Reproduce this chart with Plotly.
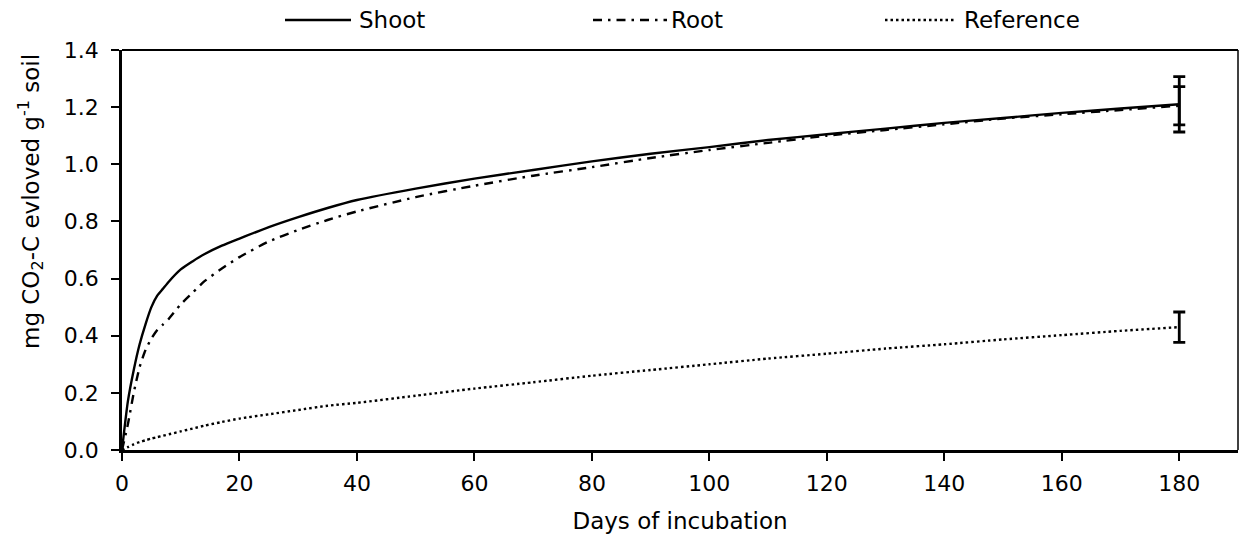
import plotly.graph_objects as go

# Cumulative CO2-C evolved during incubation (mg CO2-C per g soil)
days = [0, 1, 2, 3, 4, 5, 6, 7, 8, 10, 12, 14, 17, 20, 25, 30, 35, 40, 50, 60,
        70, 80, 90, 100, 110, 120, 130, 140, 150, 160, 170, 180]
shoot = [0, 0.17, 0.28, 0.37, 0.44, 0.50, 0.54, 0.565, 0.59, 0.632, 0.66, 0.685,
         0.715, 0.74, 0.78, 0.815, 0.847, 0.875, 0.915, 0.95, 0.98, 1.01, 1.037,
         1.06, 1.085, 1.105, 1.125, 1.145, 1.162, 1.18, 1.195, 1.21]
root = [0, 0.09, 0.20, 0.29, 0.35, 0.39, 0.42, 0.44, 0.46, 0.51, 0.55, 0.59,
        0.635, 0.675, 0.73, 0.77, 0.805, 0.835, 0.885, 0.925, 0.96, 0.99, 1.022,
        1.05, 1.075, 1.10, 1.12, 1.14, 1.16, 1.175, 1.19, 1.205]
reference = [0, 0.01, 0.02, 0.028, 0.034, 0.04, 0.045, 0.05, 0.055, 0.065, 0.075,
             0.085, 0.098, 0.11, 0.125, 0.14, 0.155, 0.165, 0.19, 0.215, 0.237,
             0.26, 0.28, 0.30, 0.32, 0.337, 0.355, 0.37, 0.387, 0.402, 0.417, 0.43]

# Standard deviations at the final sampling day
shoot_sd = 0.097
root_sd = 0.067
reference_sd = 0.053

series_names = ["Shoot", "Root", "Reference"]
x_ticks = [0, 20, 40, 60, 80, 100, 120, 140, 160, 180]
y_ticks = [0.0, 0.2, 0.4, 0.6, 0.8, 1.0, 1.2, 1.4]

FONT = "DejaVu Sans"
BLACK = "#000000"
TICK_SIZE = 22
TEXT_SIZE = 23

fig = go.Figure()

styles = [("solid", 2.4), ("9px,6px,2.5px,6px", 2.4), ("2.5px,3px", 2.4)]
for name, ys, (dash, w) in zip(series_names, [shoot, root, reference], styles):
    fig.add_trace(go.Scatter(x=days, y=ys, mode="lines", name=name,
                             line=dict(color=BLACK, width=w, dash=dash,
                                       shape="spline", smoothing=0.6),
                             showlegend=False, hoverinfo="skip"))

# Error bars on the last day
for ys, sd in [(shoot, shoot_sd), (root, root_sd), (reference, reference_sd)]:
    fig.add_trace(go.Scatter(x=[days[-1]], y=[ys[-1]], mode="markers",
                             marker=dict(size=1, color="rgba(0,0,0,0)"),
                             error_y=dict(type="data", array=[sd], visible=True,
                                          color=BLACK, thickness=2.8, width=6),
                             showlegend=False, hoverinfo="skip"))

# Plot-area geometry in pixels
L, R, T, B = 122, 2, 50, 89
W, H = 1240 - L - R, 539 - T - B


def px(p):
    return (p - L) / W


def py(p):
    return (539 - B - p) / H


# Legend drawn along the top edge
legend_items = [(285, 351, 357), (593, 667, 669), (885, 956, 962)]
shapes = []
annotations = []
for name, (x0, x1, tx), (dash, w) in zip(series_names, legend_items, styles):
    shapes.append(dict(type="line", xref="paper", yref="paper",
                       x0=px(x0), x1=px(x1), y0=py(20), y1=py(20),
                       line=dict(color=BLACK, width=w, dash=dash)))
    annotations.append(dict(text=name, xref="paper", yref="paper",
                            x=px(tx), y=py(20), xanchor="left", yanchor="middle",
                            showarrow=False,
                            font=dict(family=FONT, size=TEXT_SIZE, color=BLACK)))

# Y-axis title
annotations.append(dict(text="mg CO<sub>2</sub>-C evloved g<sup>-1</sup> soil",
                        xref="paper", yref="paper", x=px(30), y=py(202),
                        xanchor="center", yanchor="middle", textangle=-90,
                        showarrow=False,
                        font=dict(family=FONT, size=TEXT_SIZE, color=BLACK)))

# Top and right frame lines
shapes.append(dict(type="line", xref="paper", yref="paper", x0=0, x1=1, y0=1, y1=1,
                   line=dict(color=BLACK, width=2)))
shapes.append(dict(type="line", xref="paper", yref="paper", x0=1, x1=1, y0=0, y1=1,
                   line=dict(color=BLACK, width=1.5)))

fig.update_layout(
    width=1240, height=539,
    margin=dict(l=L, r=R, t=T, b=B),
    paper_bgcolor="white", plot_bgcolor="white",
    font=dict(family=FONT, size=TICK_SIZE, color=BLACK),
    shapes=shapes, annotations=annotations,
    showlegend=False,
)

fig.update_xaxes(
    range=[0, 190], tickvals=x_ticks, ticktext=[str(v) for v in x_ticks],
    showgrid=False, zeroline=False, showline=True, linecolor=BLACK, linewidth=2.5,
    ticks="outside", ticklen=8, tickwidth=2, tickcolor=BLACK,
    tickfont=dict(family=FONT, size=TICK_SIZE), ticklabelstandoff=4,
    title=dict(text="Days of incubation", font=dict(family=FONT, size=TEXT_SIZE),
               standoff=18),
)
fig.update_yaxes(
    range=[0, 1.4], tickvals=y_ticks, ticktext=[f"{v:.1f}" for v in y_ticks],
    showgrid=False, zeroline=False, showline=True, linecolor=BLACK, linewidth=2.5,
    ticks="outside", ticklen=8, tickwidth=2, tickcolor=BLACK,
    tickfont=dict(family=FONT, size=TICK_SIZE), ticklabelstandoff=8,
)

fig.write_html("out.html")
